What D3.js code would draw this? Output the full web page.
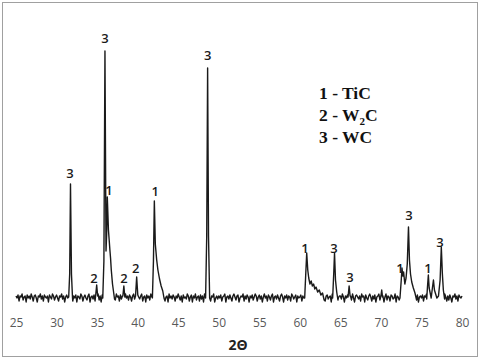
<!DOCTYPE html>
<html>
<head>
<meta charset="utf-8">
<script src="https://cdn.jsdelivr.net/npm/d3@7/dist/d3.min.js"></script>
<style>
  html, body { margin: 0; padding: 0; background: #fff; }
  svg { display: block; }
</style>
</head>
<body>
<svg id="chart" width="480" height="359"></svg>
<script>
// ---------- DATA ----------
// x-axis tick labels (2θ, degrees)
const xTicks = [25, 30, 35, 40, 45, 50, 55, 60, 65, 70, 75, 80];

// baseline noise, one value every 0.125° from 25° to 80° (intensity, a.u.)
const baselineStart = 25, baselineStep = 0.125;
const baselineNoise = [
  0,-2,1,-5,0,-1,2,-4,-1,0,-6,1,-2,0,-3,2,-1,-5,0,1,-2,-6,0,-1,2,-3,0,-5,1,-1,-2,0,-6,1,-1,-3,2,0,-4,-1,
  1,-2,-5,0,-1,2,-3,0,-6,-1,1,-2,0,-4,2,-1,-5,0,-2,1,-6,0,-1,-3,2,0,-5,-1,1,-2,-4,0,2,-6,-1,0,-3,1,-5,0,
  -1,2,-4,0,-6,1,-2,0,-3,-1,2,-5,0,-1,-6,1,0,-2,-4,2,-1,0,-5,1,-3,0,-6,-1,2,-2,0,-4,1,-1,-5,0,2,-3,-6,0,
  1,-1,-3,0,2,-5,-1,0,-6,1,-2,0,-4,2,-1,-5,0,1,-3,-6,0,2,-1,-4,0,-2,1,-5,-1,0,-6,2,-2,0,-3,1,-1,-5,0,-2,
  2,-1,-4,0,-6,1,-2,-1,-3,2,0,-5,-1,1,-6,0,-2,2,-4,-1,0,-5,1,-3,0,-6,2,-1,-2,0,-4,1,-5,0,-1,2,-6,-2,0,-3,
  0,-2,1,-5,-1,0,2,-6,-1,0,-3,1,-2,-5,0,2,-1,-4,0,1,-6,-2,0,-1,2,-5,0,-3,1,-1,-6,0,-2,1,-4,-1,2,0,-5,-1,
  1,-3,0,-6,-1,2,-2,0,-5,1,-1,-4,0,2,-6,-1,0,-3,1,-2,-5,0,2,-1,-6,0,-2,1,-4,0,-1,-5,2,0,-3,-1,1,-6,0,-2,
  -1,1,-5,0,-2,2,-6,-1,0,-3,1,-4,0,-1,2,-5,0,-2,-6,1,-1,0,-4,2,-2,-5,0,1,-3,-1,0,-6,2,-1,-4,0,1,-5,-2,0,
  0,-3,2,-1,-6,0,-2,1,-5,-1,0,-4,2,-2,-6,0,1,-1,-3,0,-5,2,-1,0,-6,1,-2,-4,0,2,-1,-5,0,-3,1,-6,-1,0,2,-4,
  1,-2,0,-6,-1,2,-4,0,-1,-5,1,0,-3,-2,2,-6,0,-1,-4,1,0,-5,-2,2,-1,-6,0,1,-3,-1,0,-5,2,-2,-4,0,1,-6,-1,0,
  -2,1,-5,0,-1,2,-6,-1,0,-3,1,-4,-2,0,2,-5,-1,0,-6,1,-2,-3,0,2,-1,-5,0,-4,1,-2,-6,0,-1,2,-3,0,-5,1,-1,-2,
  0
];

// diffraction peaks: [2θ, intensity] points
const peakWC_31 = [[31.5,-1],[31.62,22],[31.72,112],[31.84,22],[31.97,-2]];
const peakW2C_35 = [[34.83,1],[34.95,11],[35.07,0]];
const peakWC_36_TiC_36 = [[35.7,-2],[35.84,35],[35.97,245],[36.1,45],[36.18,62],[36.26,99],[36.4,66],
  [36.5,55],[36.58,46],[36.66,38],[36.75,26],[36.9,12],[37.05,3],[37.15,-3]];
const peakW2C_38 = [[38.18,0],[38.3,10],[38.42,-1]];
const peakW2C_40 = [[39.74,0],[39.88,19],[40.02,1]];
const peakTiC_42 = [[41.82,-2],[41.95,35],[42.06,95],[42.18,52],[42.35,36],[42.5,26],[42.7,17],[42.9,10],[43.1,5],[43.25,-2]];
const peakWC_48 = [[48.38,-2],[48.52,60],[48.63,228],[48.74,60],[48.88,-2]];
const peakTiC_61 = [[60.6,-2],[60.72,20],[60.85,43],[60.98,26],[61.1,18],[61.25,12],[61.4,15],[61.55,10],
  [61.7,12],[61.85,7],[62.0,9],[62.2,4],[62.4,6],[62.6,1],[62.8,3],[63.0,-4]];
const peakWC_64 = [[64.05,-2],[64.18,22],[64.28,43],[64.4,16],[64.55,4],[64.7,-4]];
const peakWC_66 = [[65.95,-1],[66.08,10],[66.2,0]];
const peak_70 = [[70.0,0],[70.1,6],[70.2,-1]];
const peakTiC_72_WC_73 = [[72.35,-2],[72.5,15],[72.6,28],[72.7,20],[72.8,24],[72.95,12],[73.1,18],[73.25,32],
  [73.4,69],[73.52,36],[73.65,22],[73.8,14],[74.0,8],[74.2,3],[74.4,-4]];
const peakTiC_76_WC_77 = [[75.65,-3],[75.75,10],[75.85,21],[75.95,8],[76.05,4],[76.2,-2],[76.35,8],[76.48,16],
  [76.6,6],[76.75,2],[76.9,-2],[77.1,0],[77.3,16],[77.45,49],[77.58,22],[77.7,6],[77.85,-3]];
const peaks = [peakWC_31, peakW2C_35, peakWC_36_TiC_36, peakW2C_38, peakW2C_40, peakTiC_42, peakWC_48,
  peakTiC_61, peakWC_64, peakWC_66, peak_70, peakTiC_72_WC_73, peakTiC_76_WC_77];

// peak phase labels: [2θ, intensity position, label]
const peakLabels = [
  [31.66,118,"3"],[34.62,13,"2"],[35.97,253,"3"],[36.47,101,"1"],[38.32,13,"2"],[39.76,23,"2"],
  [42.18,100,"1"],[48.64,236,"3"],[60.63,43,"1"],[64.21,43,"3"],[66.18,14,"3"],[72.35,23,"1"],
  [73.46,76,"3"],[75.8,23,"1"],[77.28,49,"3"]
];

// legend entries
const legendNumbers = ["1", "2", "3"];
const legendPhases = [["TiC"], ["W", "2", "C"], ["WC"]];
const xTitle = "2Θ";

// ---------- BUILD TRACE ----------
let trace = [];
baselineNoise.forEach((v, i) => {
  const xv = baselineStart + i * baselineStep;
  const inside = peaks.some(p => xv >= p[0][0] && xv <= p[p.length - 1][0]);
  if (!inside) trace.push([xv, v]);
});
peaks.forEach(p => p.forEach(pt => trace.push(pt)));
trace.sort((a, b) => a[0] - b[0]);

// ---------- DRAW ----------
const svg = d3.select("#chart");

svg.append("rect").attr("x", 2.5).attr("y", 2.5).attr("width", 475).attr("height", 354)
  .attr("fill", "#fff").attr("stroke", "#a0a0a0").attr("stroke-width", 1);

const x = d3.scaleLinear().domain([25, 80]).range([16, 462]);
const y = d3.scaleLinear().domain([0, 250]).range([296, 46]);

const line = d3.line().x(d => x(d[0])).y(d => y(d[1]));
svg.append("path").datum(trace).attr("d", line)
  .attr("fill", "none").attr("stroke", "#1a1a1a").attr("stroke-width", 1.4)
  .attr("stroke-linejoin", "round");

// x axis (labels only)
const axis = svg.append("g").attr("transform", "translate(0,318)")
  .call(d3.axisBottom(x).tickValues(xTicks).tickSize(0).tickPadding(0).tickFormat(d3.format("d")));
axis.select(".domain").remove();
axis.selectAll("text").attr("font-family", "'Open Sans', sans-serif").attr("font-size", "12px")
  .attr("fill", "#595959").attr("dy", "0.71em");

svg.append("text").attr("x", 238).attr("y", 350).attr("text-anchor", "middle")
  .attr("font-family", "'Open Sans', sans-serif").attr("font-weight", "bold").attr("font-size", "14px")
  .attr("fill", "#222").text(xTitle);

// peak labels
svg.append("g").selectAll("text").data(peakLabels).join("text")
  .attr("x", d => x(d[0])).attr("y", d => y(d[1]))
  .attr("text-anchor", "middle")
  .attr("font-family", "'Open Sans', sans-serif").attr("font-weight", 600).attr("font-size", "13px")
  .attr("fill", "#1a1a1a").text(d => d[2]);

// legend
const leg = svg.append("g");
legendNumbers.forEach((n, i) => {
  const t = leg.append("text").attr("x", 319).attr("y", 99 + i * 22)
    .attr("font-family", "'Liberation Serif', 'Times New Roman', serif").attr("font-weight", "bold")
    .attr("font-size", "17.5px").attr("fill", "#111");
  t.append("tspan").text(n + " - ");
  const parts = legendPhases[i];
  if (parts.length === 1) {
    t.append("tspan").text(parts[0]);
  } else {
    t.append("tspan").text(parts[0]);
    t.append("tspan").text(parts[1]).attr("font-size", "11px").attr("dy", "4");
    t.append("tspan").text(parts[2]).attr("dy", "-4");
  }
});
</script>
</body>
</html>
